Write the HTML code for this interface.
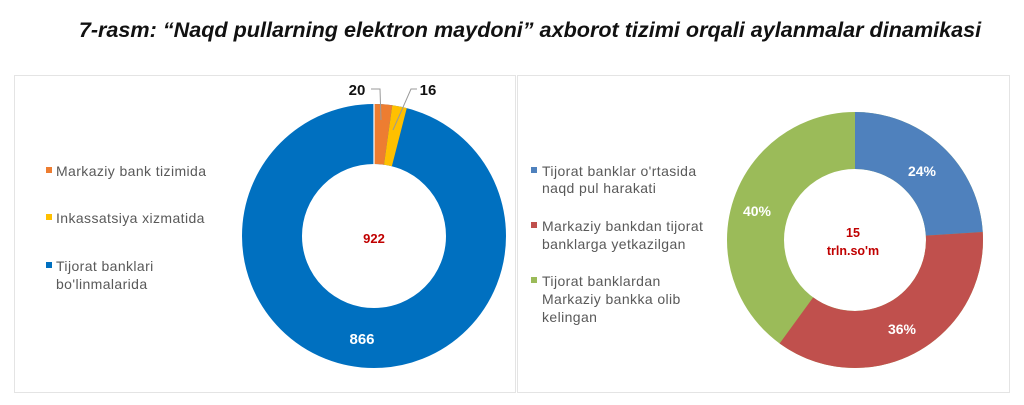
<!DOCTYPE html>
<html><head><meta charset="utf-8"><style>
body{margin:0;background:#fff;}
svg{display:block;font-family:"Liberation Sans",sans-serif;}
</style></head><body>
<svg width="1024" height="405" viewBox="0 0 1024 405">
<rect width="1024" height="405" fill="#fff"/>
<text x="530" y="37" text-anchor="middle" font-size="21.6" font-weight="bold" font-style="italic" fill="#111">7-rasm: “Naqd pullarning elektron maydoni” axborot tizimi orqali aylanmalar dinamikasi</text>
<rect x="14.5" y="75.5" width="501" height="317" fill="none" stroke="#e4e4e4"/>
<rect x="517.5" y="75.5" width="492" height="317" fill="none" stroke="#e4e4e4"/>

<!-- left donut -->
<g transform="rotate(-90 374 236)" fill="none" stroke-width="60">
<circle cx="374" cy="236" r="102" stroke="#0070c0"/>
<circle cx="374" cy="236" r="102" stroke="#ed7d31" stroke-dasharray="14.2 700"/>
<circle cx="374" cy="236" r="102" stroke="#ffc000" stroke-dasharray="0 14.2 11.4 700"/>
</g>
<line x1="374" y1="104" x2="374" y2="166" stroke="#fff" stroke-width="1.2"/>
<text x="374" y="243" text-anchor="middle" font-size="13" font-weight="bold" fill="#c00000">922</text>
<text x="362" y="344" text-anchor="middle" font-size="15" font-weight="bold" fill="#fff">866</text>
<text x="357" y="95" text-anchor="middle" font-size="15" font-weight="bold" fill="#111">20</text>
<text x="428" y="95" text-anchor="middle" font-size="15" font-weight="bold" fill="#111">16</text>
<polyline points="371,89 380,89 381,120" fill="none" stroke="#999" stroke-width="1"/>
<polyline points="417,89 411,89 393,130" fill="none" stroke="#999" stroke-width="1"/>

<g font-size="14" letter-spacing="0.4" fill="#595959">
<rect x="46" y="167" width="6" height="6" fill="#ed7d31"/>
<text x="56" y="176">Markaziy bank tizimida</text>
<rect x="46" y="214" width="6" height="6" fill="#ffc000"/>
<text x="56" y="223">Inkassatsiya xizmatida</text>
<rect x="46" y="262" width="6" height="6" fill="#0070c0"/>
<text x="56" y="271">Tijorat banklari</text>
<text x="56" y="289">bo'linmalarida</text>
</g>

<!-- right donut -->
<g transform="rotate(-90 855 240)" fill="none" stroke-width="57">
<circle cx="855" cy="240" r="99.5" stroke="#9bbb59"/>
<circle cx="855" cy="240" r="99.5" stroke="#4f81bd" stroke-dasharray="150 700"/>
<circle cx="855" cy="240" r="99.5" stroke="#c0504d" stroke-dasharray="0 150 225.1 700"/>
</g>
<text x="922" y="176" text-anchor="middle" font-size="14" font-weight="bold" fill="#fff">24%</text>
<text x="902" y="334" text-anchor="middle" font-size="14" font-weight="bold" fill="#fff">36%</text>
<text x="757" y="216" text-anchor="middle" font-size="14" font-weight="bold" fill="#fff">40%</text>
<text x="853" y="237" text-anchor="middle" font-size="12.5" font-weight="bold" fill="#c00000">15</text>
<text x="853" y="255" text-anchor="middle" font-size="12.5" font-weight="bold" fill="#c00000">trln.so'm</text>

<g font-size="14" letter-spacing="0.4" fill="#595959">
<rect x="531" y="167" width="6" height="6" fill="#4f81bd"/>
<text x="542" y="176">Tijorat banklar o'rtasida</text>
<text x="542" y="193">naqd pul harakati</text>
<rect x="531" y="222" width="6" height="6" fill="#c0504d"/>
<text x="542" y="231">Markaziy bankdan tijorat</text>
<text x="542" y="249">banklarga yetkazilgan</text>
<rect x="531" y="277" width="6" height="6" fill="#9bbb59"/>
<text x="542" y="286">Tijorat banklardan</text>
<text x="542" y="304">Markaziy bankka olib</text>
<text x="542" y="322">kelingan</text>
</g>
</svg>
</body></html>
